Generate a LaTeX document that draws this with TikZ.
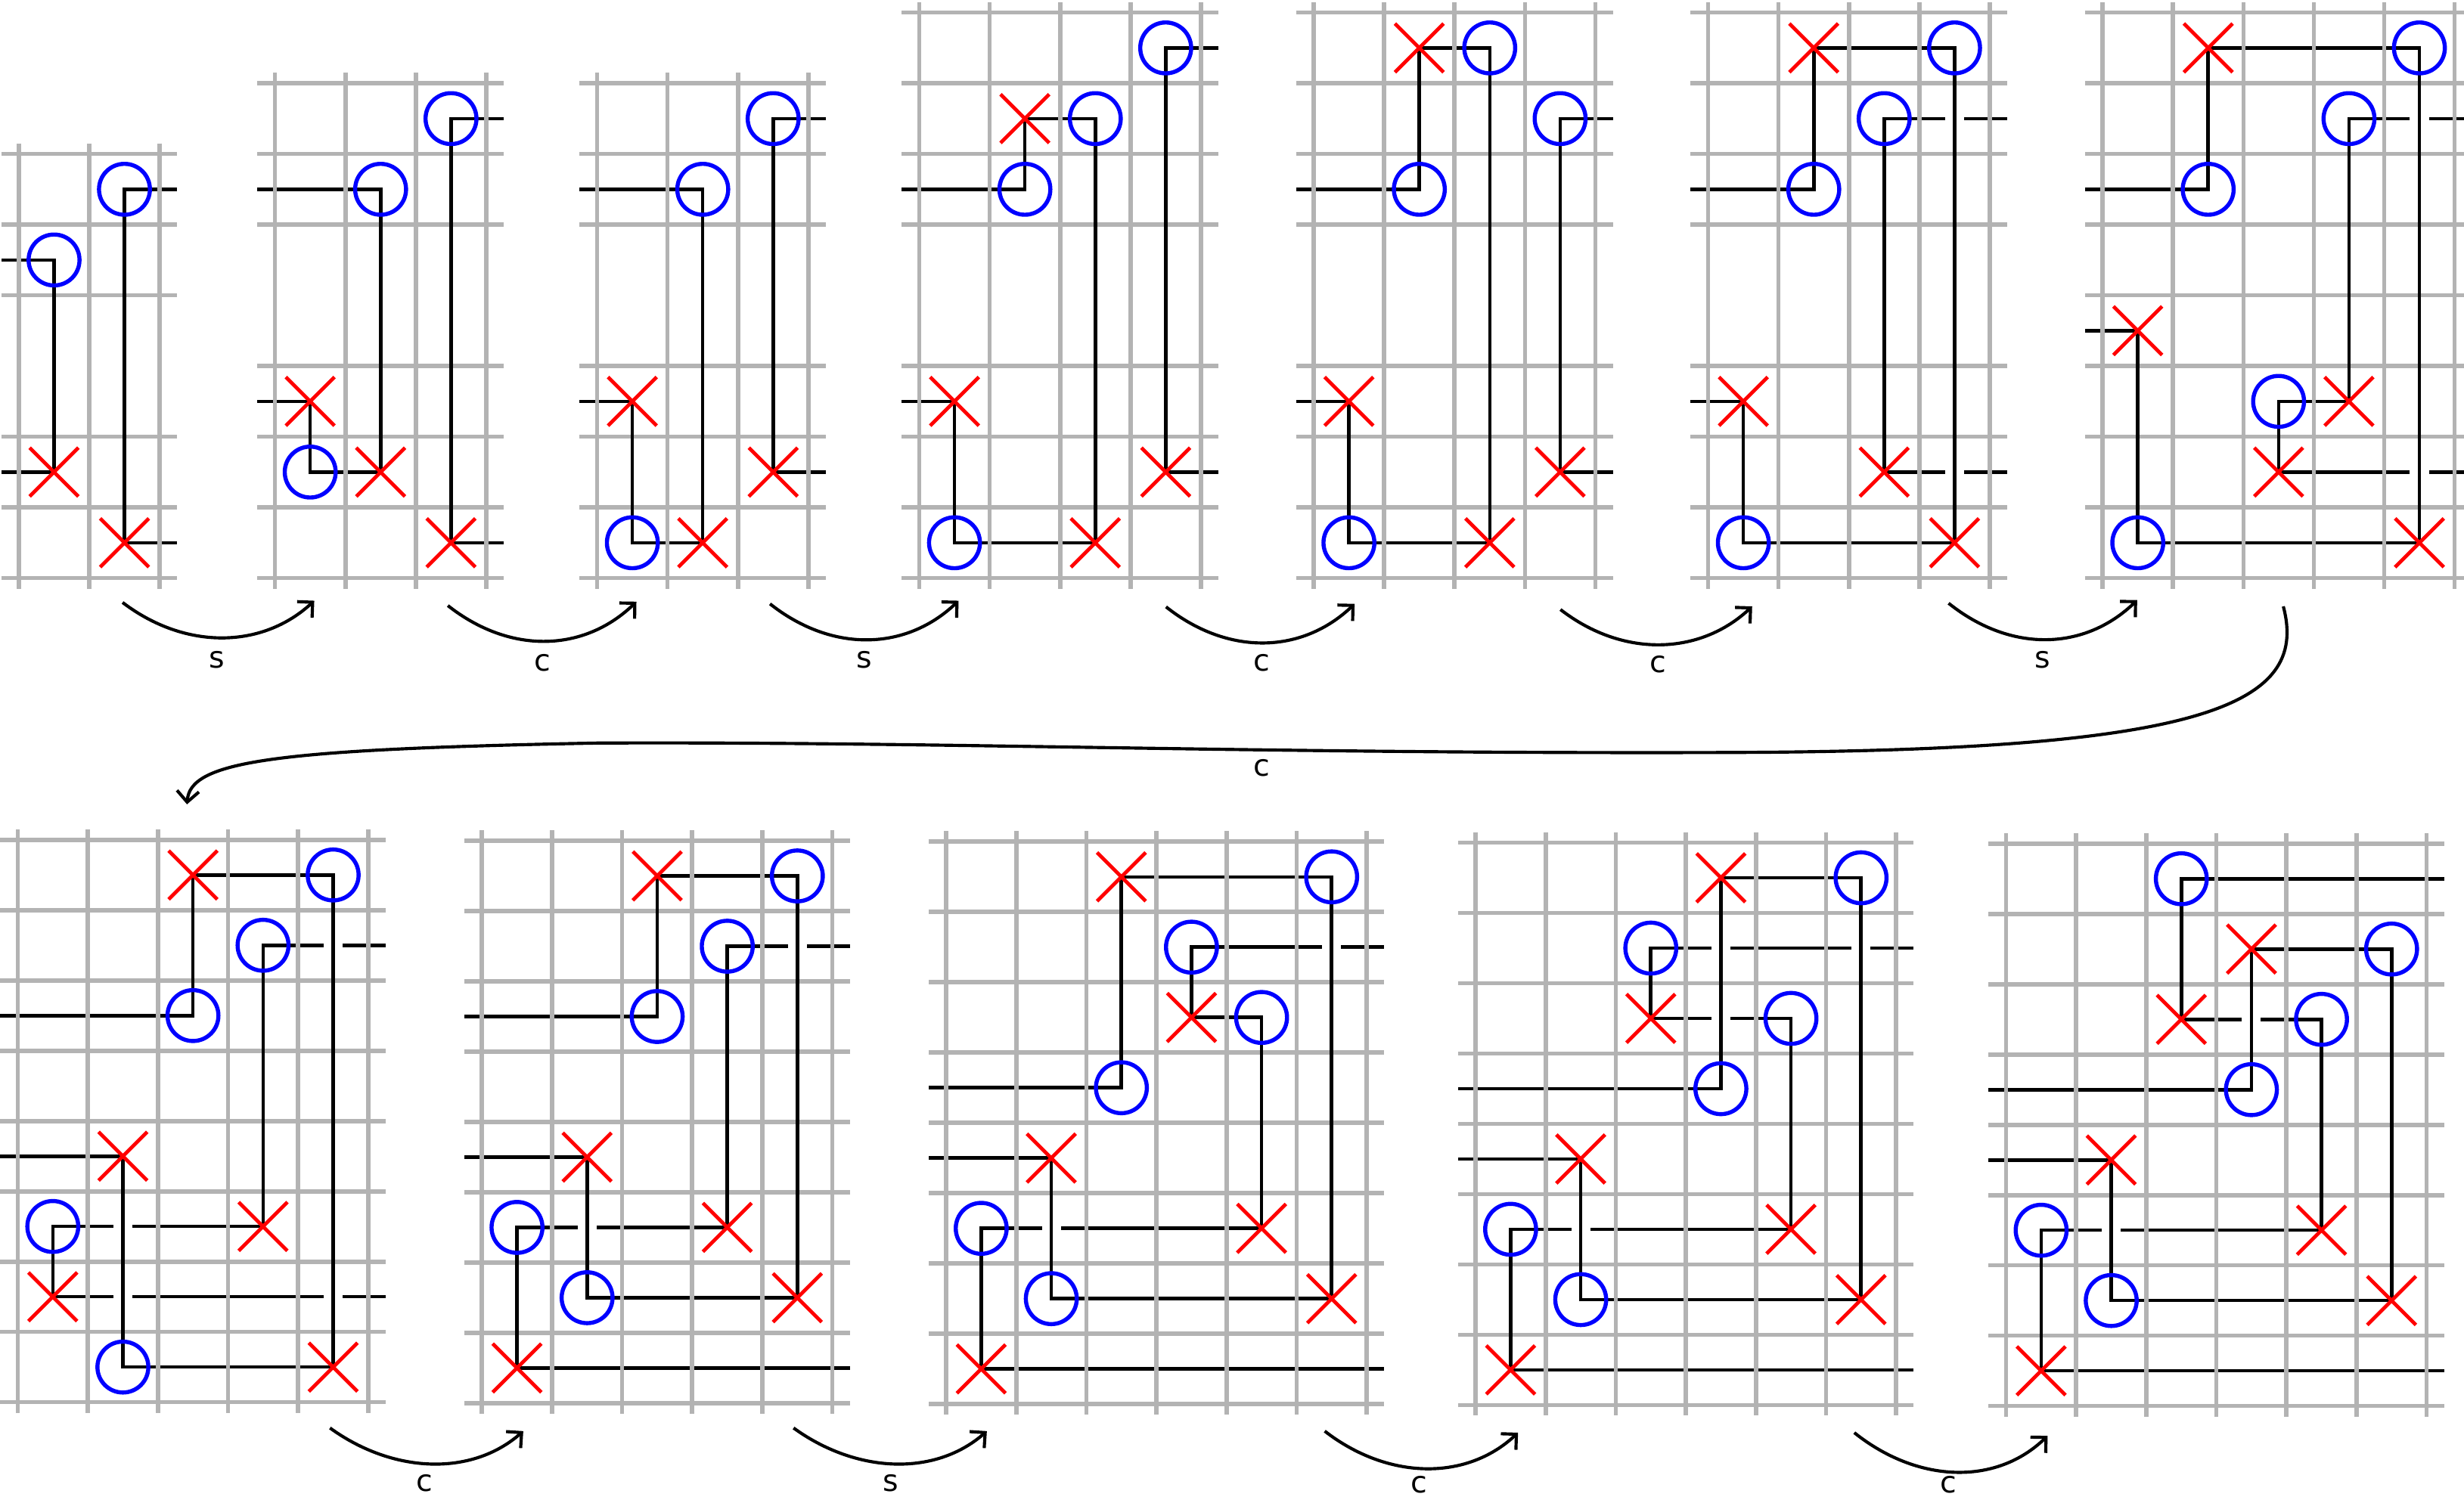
\documentclass[tikz,border=0pt]{standalone}
\usepackage{fontspec}
\setmainfont{DejaVu Sans}
\usetikzlibrary{arrows.meta}
\definecolor{gridgrey}{RGB}{179,179,179}
\definecolor{oblue}{RGB}{0,0,255}
\definecolor{xred}{RGB}{255,0,0}
\tikzset{
  gridline/.style={draw=gridgrey, line width=2.7pt},
  hedge/.style={draw=black, line width=2.2pt, line cap=rect},
  vedge/.style={draw=black, line width=2.2pt, line cap=rect},
  omark/.style={draw=oblue, line width=2.6pt},
  xmark/.style={draw=xred, line width=2.3pt},
  toprow/.style={x=44.8pt, y=-45pt},
  botrow/.style={x=44.6pt, y=-44.75pt},
  move/.style={draw=black, line width=2pt, -{Straight Barb[length=7pt,width=14pt]}},
  movelabel/.style={font=\fontsize{19}{19}\selectfont, inner sep=0pt},
}
\newcommand{\gridv}[2]{\foreach \i in {0,...,#1} {\draw[gridline] (\i,-0.15) -- (\i,#2+0.15);}}
\newcommand{\gridh}[2]{\foreach \j in {#2} {\draw[gridline] (-0.25,\j) -- (#1+0.25,\j);}}
\newcommand{\hedg}[3]{\draw[hedge] (#1,#3) -- (#2,#3);}
\newcommand{\vedg}[3]{\draw[vedge] (#1,#2) -- (#1,#3);}
\newcommand{\omk}[2]{\draw[omark] (#1,#2) circle[radius=16.2pt];}
\newcommand{\xmk}[2]{\draw[xmark,shift={(#1,#2)}] (-15.5pt,-15.5pt) -- (15.5pt,15.5pt) (-15.5pt,15.5pt) -- (15.5pt,-15.5pt);}
\begin{document}
\begin{tikzpicture}[x=1pt,y=-1pt]
\useasboundingbox (0,0) rectangle (1568,954.85);
\clip (0,0) rectangle (1568,954.85);

% ---------- P1 ----------
\begin{scope}[shift={(12,98)},toprow]
 \hedg{1.5}{2.225}{0.5} \hedg{-0.225}{0.5}{1.5} \hedg{-0.225}{0.5}{4.5} \hedg{1.5}{2.225}{5.5}
 \gridh{2}{0,1,2,4,5,6} \gridv{2}{6}
 \vedg{0.5}{1.5}{4.5} \vedg{1.5}{0.5}{5.5}
 \omk{1.5}{0.5} \omk{0.5}{1.5} \xmk{0.5}{4.5} \xmk{1.5}{5.5}
\end{scope}
% ---------- P2 ----------
\begin{scope}[shift={(175,53)},toprow]
 \hedg{2.5}{3.225}{0.5} \hedg{-0.225}{1.5}{1.5} \hedg{-0.225}{0.5}{4.5} \hedg{0.5}{1.5}{5.5} \hedg{2.5}{3.225}{6.5}
 \gridh{3}{0,1,2,4,5,6,7} \gridv{3}{7}
 \vedg{0.5}{4.5}{5.5} \vedg{1.5}{1.5}{5.5} \vedg{2.5}{0.5}{6.5}
 \omk{2.5}{0.5} \omk{1.5}{1.5} \xmk{0.5}{4.5} \omk{0.5}{5.5} \xmk{1.5}{5.5} \xmk{2.5}{6.5}
\end{scope}
% ---------- P3 ----------
\begin{scope}[shift={(380,53)},toprow]
 \hedg{2.5}{3.225}{0.5} \hedg{-0.225}{1.5}{1.5} \hedg{-0.225}{0.5}{4.5} \hedg{2.5}{3.225}{5.5} \hedg{0.5}{1.5}{6.5}
 \gridh{3}{0,1,2,4,5,6,7} \gridv{3}{7}
 \vedg{0.5}{4.5}{6.5} \vedg{1.5}{1.5}{6.5} \vedg{2.5}{0.5}{5.5}
 \omk{2.5}{0.5} \omk{1.5}{1.5} \xmk{0.5}{4.5} \xmk{2.5}{5.5} \omk{0.5}{6.5} \xmk{1.5}{6.5}
\end{scope}
% ---------- P4 ----------
\begin{scope}[shift={(585,8)},toprow]
 \hedg{3.5}{4.225}{0.5} \hedg{1.5}{2.5}{1.5} \hedg{-0.225}{1.5}{2.5} \hedg{-0.225}{0.5}{5.5} \hedg{3.5}{4.225}{6.5} \hedg{0.5}{2.5}{7.5}
 \gridh{4}{0,1,2,3,5,6,7,8} \gridv{4}{8}
 \vedg{0.5}{5.5}{7.5} \vedg{1.5}{1.5}{2.5} \vedg{2.5}{1.5}{7.5} \vedg{3.5}{0.5}{6.5}
 \omk{3.5}{0.5} \xmk{1.5}{1.5} \omk{2.5}{1.5} \omk{1.5}{2.5} \xmk{0.5}{5.5} \xmk{3.5}{6.5} \omk{0.5}{7.5} \xmk{2.5}{7.5}
\end{scope}
% ---------- P5 ----------
\begin{scope}[shift={(836,8)},toprow]
 \hedg{1.5}{2.5}{0.5} \hedg{3.5}{4.225}{1.5} \hedg{-0.225}{1.5}{2.5} \hedg{-0.225}{0.5}{5.5} \hedg{3.5}{4.225}{6.5} \hedg{0.5}{2.5}{7.5}
 \gridh{4}{0,1,2,3,5,6,7,8} \gridv{4}{8}
 \vedg{0.5}{5.5}{7.5} \vedg{1.5}{0.5}{2.5} \vedg{2.5}{0.5}{7.5} \vedg{3.5}{1.5}{6.5}
 \xmk{1.5}{0.5} \omk{2.5}{0.5} \omk{3.5}{1.5} \omk{1.5}{2.5} \xmk{0.5}{5.5} \xmk{3.5}{6.5} \omk{0.5}{7.5} \xmk{2.5}{7.5}
\end{scope}
% ---------- P6 ----------
\begin{scope}[shift={(1087,8)},toprow]
 \hedg{1.5}{3.5}{0.5} \hedg{2.5}{3.34}{1.5} \hedg{3.66}{4.225}{1.5} \hedg{-0.225}{1.5}{2.5} \hedg{-0.225}{0.5}{5.5} \hedg{2.5}{3.34}{6.5} \hedg{3.66}{4.225}{6.5} \hedg{0.5}{3.5}{7.5}
 \gridh{4}{0,1,2,3,5,6,7,8} \gridv{4}{8}
 \vedg{0.5}{5.5}{7.5} \vedg{1.5}{0.5}{2.5} \vedg{2.5}{1.5}{6.5} \vedg{3.5}{0.5}{7.5}
 \xmk{1.5}{0.5} \omk{3.5}{0.5} \omk{2.5}{1.5} \omk{1.5}{2.5} \xmk{0.5}{5.5} \xmk{2.5}{6.5} \omk{0.5}{7.5} \xmk{3.5}{7.5}
\end{scope}
% ---------- P7 ----------
\begin{scope}[shift={(1338,8)},toprow]
 \hedg{1.5}{4.5}{0.5} \hedg{3.5}{4.34}{1.5} \hedg{4.66}{5.225}{1.5} \hedg{-0.225}{1.5}{2.5} \hedg{-0.225}{0.5}{4.5} \hedg{2.5}{3.5}{5.5} \hedg{2.5}{4.34}{6.5} \hedg{4.66}{5.225}{6.5} \hedg{0.5}{4.5}{7.5}
 \gridh{5}{0,1,2,3,4,5,6,7,8} \gridv{5}{8}
 \vedg{0.5}{4.5}{7.5} \vedg{1.5}{0.5}{2.5} \vedg{2.5}{5.5}{6.5} \vedg{3.5}{1.5}{5.5} \vedg{4.5}{0.5}{7.5}
 \xmk{1.5}{0.5} \omk{4.5}{0.5} \omk{3.5}{1.5} \omk{1.5}{2.5} \xmk{0.5}{4.5} \omk{2.5}{5.5} \xmk{3.5}{5.5} \xmk{2.5}{6.5} \omk{0.5}{7.5} \xmk{4.5}{7.5}
\end{scope}
% ---------- P8 ----------
\begin{scope}[shift={(11.3,534.6)},botrow]
 \hedg{2.5}{4.5}{0.5} \hedg{3.5}{4.34}{1.5} \hedg{4.66}{5.225}{1.5} \hedg{-0.225}{2.5}{2.5} \hedg{-0.225}{1.5}{4.5} \hedg{0.5}{1.34}{5.5} \hedg{1.66}{3.5}{5.5} \hedg{0.5}{1.34}{6.5} \hedg{1.66}{4.34}{6.5} \hedg{4.66}{5.225}{6.5} \hedg{1.5}{4.5}{7.5}
 \gridh{5}{0,1,2,3,4,5,6,7,8} \gridv{5}{8}
 \vedg{0.5}{5.5}{6.5} \vedg{1.5}{4.5}{7.5} \vedg{2.5}{0.5}{2.5} \vedg{3.5}{1.5}{5.5} \vedg{4.5}{0.5}{7.5}
 \xmk{2.5}{0.5} \omk{4.5}{0.5} \omk{3.5}{1.5} \omk{2.5}{2.5} \xmk{1.5}{4.5} \omk{0.5}{5.5} \xmk{3.5}{5.5} \xmk{0.5}{6.5} \omk{1.5}{7.5} \xmk{4.5}{7.5}
\end{scope}
% ---------- P9 ----------
\begin{scope}[shift={(306.7,535.2)},botrow]
 \hedg{2.5}{4.5}{0.5} \hedg{3.5}{4.34}{1.5} \hedg{4.66}{5.225}{1.5} \hedg{-0.225}{2.5}{2.5} \hedg{-0.225}{1.5}{4.5} \hedg{0.5}{1.34}{5.5} \hedg{1.66}{3.5}{5.5} \hedg{1.5}{4.5}{6.5} \hedg{0.5}{5.225}{7.5}
 \gridh{5}{0,1,2,3,4,5,6,7,8} \gridv{5}{8}
 \vedg{0.5}{5.5}{7.5} \vedg{1.5}{4.5}{6.5} \vedg{2.5}{0.5}{2.5} \vedg{3.5}{1.5}{5.5} \vedg{4.5}{0.5}{6.5}
 \xmk{2.5}{0.5} \omk{4.5}{0.5} \omk{3.5}{1.5} \omk{2.5}{2.5} \xmk{1.5}{4.5} \omk{0.5}{5.5} \xmk{3.5}{5.5} \omk{1.5}{6.5} \xmk{4.5}{6.5} \xmk{0.5}{7.5}
\end{scope}
% ---------- P10 ----------
\begin{scope}[shift={(602.1,535.8)},botrow]
 \hedg{2.5}{5.5}{0.5} \hedg{3.5}{5.34}{1.5} \hedg{5.66}{6.225}{1.5} \hedg{3.5}{4.5}{2.5} \hedg{-0.225}{2.5}{3.5} \hedg{-0.225}{1.5}{4.5} \hedg{0.5}{1.34}{5.5} \hedg{1.66}{4.5}{5.5} \hedg{1.5}{5.5}{6.5} \hedg{0.5}{6.225}{7.5}
 \gridh{6}{0,1,2,3,4,5,6,7,8} \gridv{6}{8}
 \vedg{0.5}{5.5}{7.5} \vedg{1.5}{4.5}{6.5} \vedg{2.5}{0.5}{3.5} \vedg{3.5}{1.5}{2.5} \vedg{4.5}{2.5}{5.5} \vedg{5.5}{0.5}{6.5}
 \xmk{2.5}{0.5} \omk{5.5}{0.5} \omk{3.5}{1.5} \xmk{3.5}{2.5} \omk{4.5}{2.5} \omk{2.5}{3.5} \xmk{1.5}{4.5} \omk{0.5}{5.5} \xmk{4.5}{5.5} \omk{1.5}{6.5} \xmk{5.5}{6.5} \xmk{0.5}{7.5}
\end{scope}
% ---------- P11 ----------
\begin{scope}[shift={(939,536.4)},botrow]
 \hedg{3.5}{5.5}{0.5} \hedg{2.5}{3.34}{1.5} \hedg{3.66}{5.34}{1.5} \hedg{5.66}{6.225}{1.5} \hedg{2.5}{3.34}{2.5} \hedg{3.66}{4.5}{2.5} \hedg{-0.225}{3.5}{3.5} \hedg{-0.225}{1.5}{4.5} \hedg{0.5}{1.34}{5.5} \hedg{1.66}{4.5}{5.5} \hedg{1.5}{5.5}{6.5} \hedg{0.5}{6.225}{7.5}
 \gridh{6}{0,1,2,3,4,5,6,7,8} \gridv{6}{8}
 \vedg{0.5}{5.5}{7.5} \vedg{1.5}{4.5}{6.5} \vedg{2.5}{1.5}{2.5} \vedg{3.5}{0.5}{3.5} \vedg{4.5}{2.5}{5.5} \vedg{5.5}{0.5}{6.5}
 \xmk{3.5}{0.5} \omk{5.5}{0.5} \omk{2.5}{1.5} \xmk{2.5}{2.5} \omk{4.5}{2.5} \omk{3.5}{3.5} \xmk{1.5}{4.5} \omk{0.5}{5.5} \xmk{4.5}{5.5} \omk{1.5}{6.5} \xmk{5.5}{6.5} \xmk{0.5}{7.5}
\end{scope}
% ---------- P12 ----------
\begin{scope}[shift={(1276.6,537)},botrow]
 \hedg{2.5}{6.225}{0.5} \hedg{3.5}{5.5}{1.5} \hedg{2.5}{3.34}{2.5} \hedg{3.66}{4.5}{2.5} \hedg{-0.225}{3.5}{3.5} \hedg{-0.225}{1.5}{4.5} \hedg{0.5}{1.34}{5.5} \hedg{1.66}{4.5}{5.5} \hedg{1.5}{5.5}{6.5} \hedg{0.5}{6.225}{7.5}
 \gridh{6}{0,1,2,3,4,5,6,7,8} \gridv{6}{8}
 \vedg{0.5}{5.5}{7.5} \vedg{1.5}{4.5}{6.5} \vedg{2.5}{0.5}{2.5} \vedg{3.5}{1.5}{3.5} \vedg{4.5}{2.5}{5.5} \vedg{5.5}{1.5}{6.5}
 \omk{2.5}{0.5} \xmk{3.5}{1.5} \omk{5.5}{1.5} \xmk{2.5}{2.5} \omk{4.5}{2.5} \omk{3.5}{3.5} \xmk{1.5}{4.5} \omk{0.5}{5.5} \xmk{4.5}{5.5} \omk{1.5}{6.5} \xmk{5.5}{6.5} \xmk{0.5}{7.5}
\end{scope}

% ---------- moves, top row ----------
\coordinate (a1s) at (78,383.5);   \coordinate (a1e) at (200,382.4);
\coordinate (a2s) at (285,385.5);  \coordinate (a2e) at (405,383);
\coordinate (a3s) at (490,384.4);  \coordinate (a3e) at (610,382.4);
\coordinate (a4s) at (742,386.3);  \coordinate (a4e) at (862,384.4);
\coordinate (a5s) at (993,388);    \coordinate (a5e) at (1115,386);
\coordinate (a6s) at (1240,384);   \coordinate (a6e) at (1360,382);
\draw[move] (a1s) .. controls (118,414) and (167,413) .. (a1e);
\draw[move] (a2s) .. controls (325,417) and (372,415) .. (a2e);
\draw[move] (a3s) .. controls (530,416) and (577,414) .. (a3e);
\draw[move] (a4s) .. controls (782,418) and (829,416) .. (a4e);
\draw[move] (a5s) .. controls (1033,419) and (1082,417) .. (a5e);
\draw[move] (a6s) .. controls (1280,416) and (1327,414) .. (a6e);
\node[movelabel] (l1) at (138,420) {s};
\node[movelabel] (l2) at (345,422) {c};
\node[movelabel] (l3) at (550,420) {s};
\node[movelabel] (l4) at (803,422) {c};
\node[movelabel] (l5) at (1055,423) {c};
\node[movelabel] (l6) at (1300,420) {s};

% ---------- long move ----------
\coordinate (a7s) at (1453,386); \coordinate (a7e) at (119,512);
\draw[move] (a7s) .. controls (1470,450) and (1400,478) .. (1100,479)
  .. controls (800,480) and (600,472) .. (380,473)
  .. controls (170,477) and (121,485) .. (a7e);
\node[movelabel] (l7) at (803,489) {c};

% ---------- moves, bottom row ----------
\coordinate (b1s) at (210,909);  \coordinate (b1e) at (333,911);
\coordinate (b2s) at (505,909);  \coordinate (b2e) at (628,911);
\coordinate (b3s) at (843,911);  \coordinate (b3e) at (966,912);
\coordinate (b4s) at (1180,912); \coordinate (b4e) at (1303,914);
\draw[move] (b1s) .. controls (250,938) and (300,940) .. (b1e);
\draw[move] (b2s) .. controls (545,938) and (595,940) .. (b2e);
\draw[move] (b3s) .. controls (883,942) and (933,943) .. (b3e);
\draw[move] (b4s) .. controls (1220,944) and (1270,946) .. (b4e);
\node[movelabel] (l8) at (270,944) {c};
\node[movelabel] (l9) at (567,944) {s};
\node[movelabel] (l10) at (903,945) {c};
\node[movelabel] (l11) at (1240,945) {c};
\end{tikzpicture}
\end{document}
